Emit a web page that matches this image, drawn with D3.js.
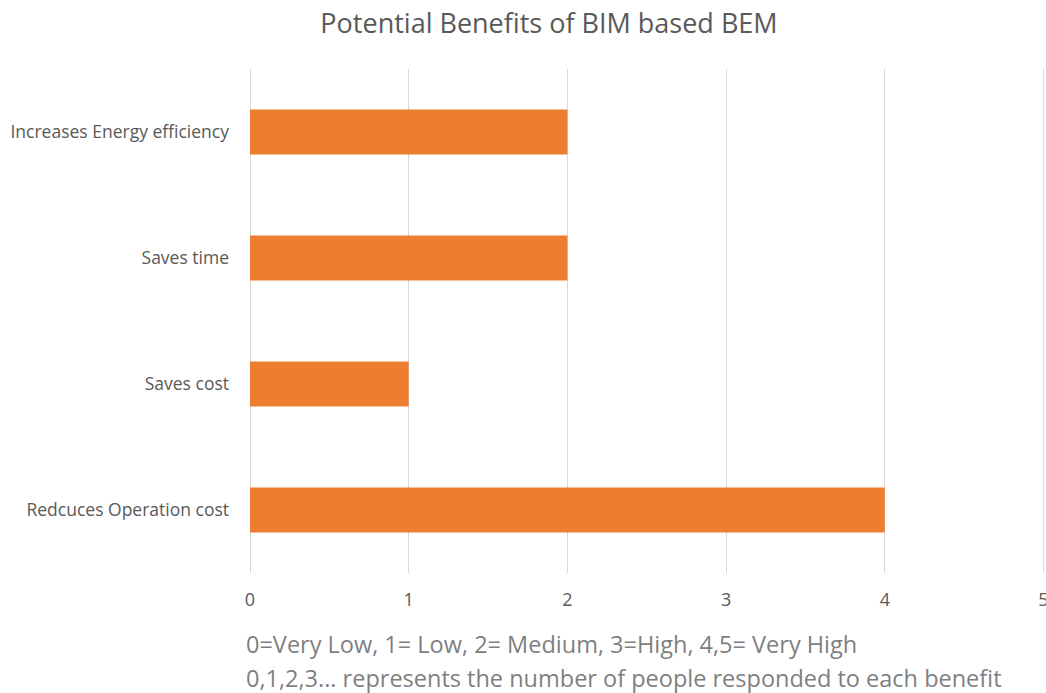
<!DOCTYPE html>
<html>
<head>
<meta charset="utf-8">
<script src="https://cdn.jsdelivr.net/npm/d3@7"></script>
<style>
  html, body { margin: 0; padding: 0; background: #fff; }
  svg { display: block; font-family: "Open Sans", "Noto Sans", sans-serif; }
</style>
</head>
<body>
<svg id="chart" width="1046" height="693"></svg>
<script>
// Survey responses per benefit (number of respondents)
const categories = [
  "Increases Energy efficiency",
  "Saves time",
  "Saves cost",
  "Redcuces Operation cost"
];
const responses = [2, 2, 1, 4];
const xTicks = [0, 1, 2, 3, 4, 5];
const titleText = "Potential Benefits of BIM based BEM";
const noteLines = [
  "0=Very Low, 1= Low, 2= Medium, 3=High, 4,5= Very High",
  "0,1,2,3... represents the number of people responded to each benefit"
];

const svg = d3.select("#chart");
const plot = { left: 249.5, right: 1043, top: 69, bottom: 573 };

const x = d3.scaleLinear().domain([0, 5]).range([plot.left, plot.right]);
const y = d3.scaleBand()
  .domain(categories)
  .range([plot.top, plot.bottom])
  .paddingInner(0.643)
  .paddingOuter(0.3215);

// Title
svg.append("text")
  .attr("x", 549).attr("y", 33)
  .attr("text-anchor", "middle")
  .attr("font-size", 27)
  .attr("fill", "#595959")
  .text(titleText);

// Vertical gridlines
svg.append("g")
  .selectAll("line")
  .data(xTicks)
  .join("line")
  .attr("x1", d => Math.round(x(d)) + 0.5)
  .attr("x2", d => Math.round(x(d)) + 0.5)
  .attr("y1", plot.top)
  .attr("y2", plot.bottom)
  .attr("stroke", "#d9d9d9")
  .attr("stroke-width", 1);

// Bars
svg.append("g")
  .selectAll("rect")
  .data(categories)
  .join("rect")
  .attr("x", x(0) + 0.5)
  .attr("y", d => y(d))
  .attr("width", (d, i) => x(responses[i]) - x(0))
  .attr("height", y.bandwidth())
  .attr("fill", "#ED7D31");

// Category labels
const yAxis = d3.axisLeft(y).tickSize(0).tickPadding(0);
const yg = svg.append("g")
  .attr("transform", `translate(229,0)`)
  .call(yAxis)
  .attr("font-family", null)
  .attr("font-size", null);
yg.select(".domain").remove();
yg.selectAll("text")
  .style("font-size", "17.5px")
  .attr("fill", "#595959")
  .attr("dy", "0.35em");

// Value axis tick labels
const xAxis = d3.axisBottom(x).tickValues(xTicks).tickSize(0).tickPadding(0)
  .tickFormat(d3.format("d"));
const xg = svg.append("g")
  .attr("transform", `translate(0,${plot.bottom + 33})`)
  .call(xAxis)
  .attr("font-family", null)
  .attr("font-size", null);
xg.select(".domain").remove();
xg.selectAll("text")
  .style("font-size", "18px")
  .attr("fill", "#595959")
  .attr("y", 0)
  .attr("dy", 0);

// Footnote
svg.append("g")
  .selectAll("text")
  .data(noteLines)
  .join("text")
  .attr("x", 246)
  .attr("y", (d, i) => 653 + i * 34)
  .attr("font-size", 23.5)
  .attr("fill", "#7f7f7f")
  .text(d => d);
</script>
</body>
</html>
